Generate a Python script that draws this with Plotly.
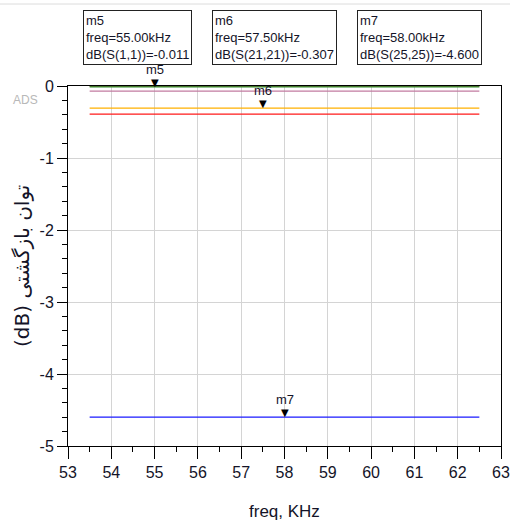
import plotly.graph_objects as go

# Swept frequency span (kHz) of the reflection traces
freq_start = 53.5
freq_stop = 62.5

# Reflection magnitude of each port (dB), flat across the sweep
trace_names = ["S(2,2)", "S(1,1)", "S(12,12)", "S(21,21)", "S(22,22)", "S(25,25)"]
trace_db = [-0.004, -0.011, -0.070, -0.307, -0.390, -4.600]
trace_colors = ["#8b4a2b", "#2e8b2e", "#c27ba0", "#ffb000", "#ff1a1a", "#1a1aff"]

# Marker readouts
marker_names = ["m5", "m6", "m7"]
marker_freq = [55.00, 57.50, 58.00]
marker_db = [-0.011, -0.307, -4.600]
marker_traces = ["S(1,1)", "S(21,21)", "S(25,25)"]

x_ticks = [53, 54, 55, 56, 57, 58, 59, 60, 61, 62, 63]
y_ticks = [0, -1, -2, -3, -4, -5]

FONT = "Arial, Liberation Sans, sans-serif"
TXT = "#141428"

# figure geometry in pixels
FIG_W, FIG_H = 510, 522
L, T, W, H = 68, 86, 433, 360

fig = go.Figure()
for name, val, col in zip(trace_names, trace_db, trace_colors):
    fig.add_trace(go.Scatter(
        x=[freq_start, freq_stop], y=[val, val], mode="lines", name=name,
        line=dict(color=col, width=1.3), hoverinfo="skip"))

annotations = []
# marker triangles and labels
for name, f, v in zip(marker_names, marker_freq, marker_db):
    annotations.append(dict(x=f, y=v, xref="x", yref="y", text="▼", showarrow=False,
                            yanchor="bottom", yshift=-3,
                            font=dict(family="DejaVu Sans", size=10, color="black")))
    annotations.append(dict(x=f, y=v, xref="x", yref="y", text=name, showarrow=False,
                            yanchor="bottom", yshift=8,
                            font=dict(family=FONT, size=13, color=TXT)))

# readout boxes above the plot
box_left_px = [83, 212, 357]
for name, f, v, tr, bx in zip(marker_names, marker_freq, marker_db, marker_traces, box_left_px):
    annotations.append(dict(
        x=(bx - L) / W, y=(T + H - 10) / H, xref="paper", yref="paper",
        xanchor="left", yanchor="top", align="left", showarrow=False,
        text=f"{name}<br>freq={f:.2f}kHz<br>dB({tr})={v:.3f}",
        font=dict(family=FONT, size=13, color=TXT),
        bordercolor="#222", borderwidth=1, borderpad=2, bgcolor="white"))

annotations.append(dict(x=(25 - L) / W, y=(T + H - 100) / H, xref="paper", yref="paper",
                        xanchor="center", yanchor="middle",
                        text="ADS", showarrow=False,
                        font=dict(family=FONT, size=12, color="#b8b8b8")))
annotations.append(dict(x=(22 - L) / W, y=0.5, xref="paper", yref="paper",
                        xanchor="center", yanchor="middle",
                        text="(dB) توان بازگشتی", textangle=-90, showarrow=False,
                        font=dict(family="DejaVu Sans, Arial", size=20, color=TXT)))
annotations.append(dict(x=0.5, y=(T + H - 511) / H, xref="paper", yref="paper",
                        xanchor="center", yanchor="middle",
                        text="freq, KHz", showarrow=False,
                        font=dict(family=FONT, size=17, color=TXT)))

fig.update_layout(
    width=FIG_W, height=FIG_H, autosize=False,
    margin=dict(l=L, r=FIG_W - L - W, t=T, b=FIG_H - T - H, autoexpand=False),
    paper_bgcolor="white", plot_bgcolor="white",
    showlegend=False,
    annotations=annotations,
    shapes=[dict(type="line", xref="paper", yref="paper",
                 x0=-L / W, x1=(FIG_W - L) / W, y0=(T + H - 4) / H, y1=(T + H - 4) / H,
                 line=dict(color="#dcdcdc", width=1))],
    xaxis=dict(range=[53, 63], tickvals=x_ticks, ticks="outside", ticklen=12,
               automargin=False,
               tickcolor="black", showline=True, linecolor="black", mirror=True,
               showgrid=True, gridcolor="#d4d4d4", zeroline=False,
               tickfont=dict(family=FONT, size=16, color=TXT),
               minor=dict(dtick=0.5, ticks="outside", ticklen=5, tickcolor="black", showgrid=False)),
    yaxis=dict(range=[-5, 0], tickvals=y_ticks, ticktext=[str(t) for t in y_ticks],
               ticks="outside", ticklen=10, automargin=False,
               tickcolor="black", showline=True, linecolor="black", mirror=True,
               showgrid=True, gridcolor="#d4d4d4", zeroline=False,
               tickfont=dict(family=FONT, size=16, color=TXT),
               minor=dict(dtick=0.2, ticks="outside", ticklen=5, tickcolor="black", showgrid=False)),
)

fig.write_html("out.html", config={"responsive": False})
